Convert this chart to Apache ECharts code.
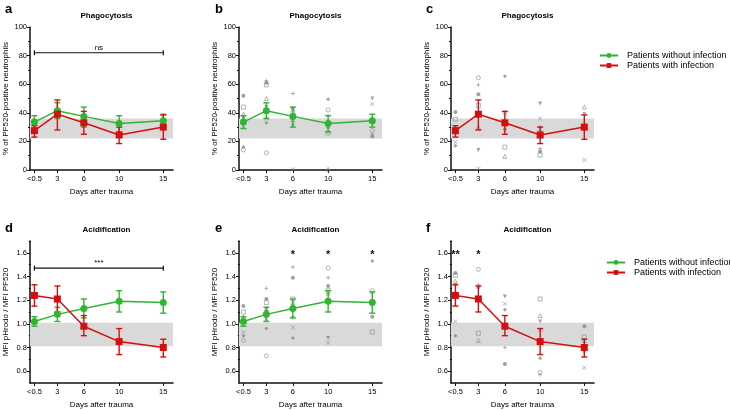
<!DOCTYPE html>
<html>
<head>
<meta charset="utf-8">
<script src="https://cdn.jsdelivr.net/npm/echarts@6/dist/echarts.min.js"></script>
<style>html,body{margin:0;padding:0;background:#fff}#c{width:730px;height:410px}</style>
</head>
<body>
<div id="c"></div>
<script>
// ---------------- data ----------------
const days = [0.4, 3, 6, 10, 15];
const dayLabels = ['<0.5', '3', '6', '10', '15'];
const nameNoInf = 'Patients without infection';
const nameInf = 'Patients with infection';

const phagoNoInf     = [33.5, 41.5, 37.5, 32.5, 34.5];
const phagoNoInfLow  = [29, 36, 30, 26.5, 30];
const phagoNoInfHigh = [38, 47, 44, 38, 39];
const phagoInf       = [27.5, 39, 33, 24.5, 30];
const phagoInfLow    = [23, 28, 25, 18.5, 21.5];
const phagoInfHigh   = [31, 49, 41, 30, 38.5];

const acidNoInf      = [1.02, 1.08, 1.13, 1.19, 1.18];
const acidNoInfLow   = [0.98, 1.02, 1.05, 1.10, 1.09];
const acidNoInfHigh  = [1.06, 1.14, 1.21, 1.28, 1.27];
const acidInf        = [1.24, 1.21, 0.98, 0.85, 0.80];
const acidInfLow     = [1.15, 1.10, 0.90, 0.74, 0.72];
const acidInfHigh    = [1.33, 1.32, 1.07, 0.96, 0.87];

const phagoRefBand = [22, 36];
const acidRefBand  = [0.81, 1.01];
const phagoTicks = [0, 20, 40, 60, 80, 100];
const acidTicks  = [0.6, 0.8, 1.0, 1.2, 1.4, 1.6];

// individual patients
const phagoNoInfDots = [
  [0.4,52],[0.4,44],[0.4,39],[0.4,36],[0.4,31],[0.4,16],[0.4,14],
  [3,62.5],[3,61],[3,59.5],[3,50],[3,44],[3,36],[3,33],[3,12],
  [6,53.5],[6,43],[6,40],[6,35],[6,31],[6,0.5],
  [10,49.5],[10,42],[10,38],[10,30],[10,26],[10,0.5],
  [15,50],[15,46],[15,34],[15,27.5],[15,25],[15,23.5]
];
const phagoInfDots = [
  [0.4,40.5],[0.4,35.5],[0.4,30],[0.4,25],[0.4,19.5],[0.4,17],
  [3,64.5],[3,59.5],[3,53],[3,45],[3,30],[3,14],[3,1],
  [6,65.5],[6,40],[6,33],[6,28.5],[6,16],[6,9.5],
  [10,46.5],[10,36],[10,30],[10,27],[10,15],[10,13],[10,10.5],
  [15,44],[15,39],[15,7]
];
const acidNoInfDots = [
  [0.4,1.15],[0.4,1.10],[0.4,1.06],[0.4,1.0],[0.4,0.93],[0.4,0.90],[0.4,0.86],
  [3,1.30],[3,1.21],[3,1.18],[3,1.13],[3,1.10],[3,1.04],[3,0.96],[3,0.73],
  [6,1.48],[6,1.39],[6,1.21],[6,1.18],[6,1.05],[6,0.97],[6,0.88],
  [10,1.47],[10,1.39],[10,1.32],[10,1.28],[10,1.26],[10,0.88],[10,0.84],
  [15,1.53],[15,1.28],[15,1.26],[15,1.06],[15,0.93]
];
const acidInfDots = [
  [0.4,1.43],[0.4,1.41],[0.4,1.36],[0.4,1.33],[0.4,1.02],[0.4,0.90],
  [3,1.46],[3,1.33],[3,1.31],[3,0.92],[3,0.86],
  [6,1.23],[6,1.17],[6,1.12],[6,0.99],[6,0.80],[6,0.66],
  [10,1.21],[10,1.07],[10,1.02],[10,0.95],[10,0.71],[10,0.59],[10,0.57],
  [15,0.98],[15,0.89],[15,0.86],[15,0.76],[15,0.63]
];

// significance
const phagoBracket = [0.4, 15, 82];   const phagoBracketText = 'ns';
const acidBracket  = [0.4, 15, 1.47]; const acidBracketText  = '***';
const acidNoInfStarDays = [6, 10, 15];   const acidNoInfStarText = ['*', '*', '*'];
const acidInfStarDays   = [0.4, 3];      const acidInfStarText   = ['**', '*'];

// ---------------- styling helpers ----------------
const GREEN = '#2fb52f', RED = '#d40f0f', GRAY = '#8a8a8a', BAND = '#d9d9d9';
const FONT = 'Liberation Sans';
const grids = [
  {left: 30,  top: 27,  width: 143, height: 143},
  {left: 239, top: 27,  width: 143, height: 143},
  {left: 451, top: 27,  width: 143, height: 143},
  {left: 30,  top: 241, width: 143, height: 143},
  {left: 239, top: 241, width: 143, height: 143},
  {left: 451, top: 241, width: 143, height: 143}
];
const zip = (xs, ys) => xs.map((x, i) => [x, ys[i]]);

const dotSymbols = [
  {symbol: 'circle', fill: true},
  {symbol: 'rect', fill: false},
  {symbol: 'triangle', fill: false},
  {symbol: 'path://M0,0L10,0L5,9Z', fill: true},
  {symbol: 'path://M0,0L10,10M10,0L0,10', fill: false},
  {symbol: 'diamond', fill: true},
  {symbol: 'circle', fill: false},
  {symbol: 'path://M5,0L5,10M0,5L10,5', fill: false}
];

const xAxes = [], yAxes = [];
grids.forEach((g, i) => {
  xAxes.push({
    gridIndex: i, type: 'value', min: -0.1, max: 16.1,
    name: 'Days after trauma', nameLocation: 'middle', nameGap: 18,
    nameTextStyle: {fontSize: 8, color: '#000', fontFamily: FONT},
    axisLine: {show: true, onZero: false, lineStyle: {color: '#111', width: 1.5}},
    axisTick: {show: true, length: 3, customValues: days, lineStyle: {color: '#111', width: 1}},
    axisLabel: {fontSize: 7.5, color: '#000', margin: 5, fontFamily: FONT, customValues: days,
      formatter: v => { const k = days.findIndex(d => Math.abs(d - v) < 1e-6); return k >= 0 ? dayLabels[k] : ''; }},
    splitLine: {show: false}
  });
  const top = i < 3;
  const common = {
    gridIndex: i, type: 'value',
    nameLocation: 'middle', nameGap: 20,
    nameTextStyle: {fontSize: 8, color: '#000', fontFamily: FONT},
    axisLine: {show: true, onZero: false, lineStyle: {color: '#111', width: 1.5}},
    splitLine: {show: false}
  };
  if (top) {
    yAxes.push(Object.assign({}, common, {
      min: phagoTicks[0], max: phagoTicks[phagoTicks.length - 1], interval: 20,
      name: '% of PF520-positive neutrophils',
      axisTick: {show: true, length: 3, lineStyle: {color: '#111', width: 1}},
      minorTick: {show: true, splitNumber: 2, length: 2, lineStyle: {color: '#111', width: 1}},
      minorSplitLine: {show: false},
      axisLabel: {fontSize: 7.5, color: '#000', margin: 3, fontFamily: FONT}
    }));
  } else {
    yAxes.push(Object.assign({}, common, {
      min: 0.5, max: 1.7,
      name: 'MFI pHrodo / MFI PF520',
      axisTick: {show: true, length: 3, customValues: acidTicks, lineStyle: {color: '#111', width: 1}},
      axisLabel: {fontSize: 7.5, color: '#000', margin: 3, fontFamily: FONT, customValues: acidTicks,
        formatter: v => v.toFixed(1)}
    }));
  }
});
// minor ticks for the lower row
const acidMinor = acidTicks.slice(0, -1).map(v => +(v + 0.1).toFixed(2)).concat([1.7]);
[3, 4, 5].forEach(i => {
  yAxes.push({
    gridIndex: i, type: 'value', min: 0.5, max: 1.7, position: 'left', offset: 0,
    axisLine: {show: false}, splitLine: {show: false},
    axisTick: {show: true, length: 2, customValues: acidMinor, lineStyle: {color: '#111', width: 1}},
    axisLabel: {show: false, customValues: acidMinor}
  });
});

function errRender(params, api) {
  const x = api.value(0);
  const pLo = api.coord([x, api.value(1)]);
  const pHi = api.coord([x, api.value(2)]);
  const w = 3;
  const style = {stroke: api.visual('color'), lineWidth: 1.4, fill: null};
  return {type: 'group', children: [
    {type: 'line', shape: {x1: pLo[0], y1: pLo[1], x2: pHi[0], y2: pHi[1]}, style},
    {type: 'line', shape: {x1: pLo[0] - w, y1: pLo[1], x2: pLo[0] + w, y2: pLo[1]}, style},
    {type: 'line', shape: {x1: pHi[0] - w, y1: pHi[1], x2: pHi[0] + w, y2: pHi[1]}, style}
  ]};
}

const series = [];
function addGroup(gi, name, color, symbol, vals, lo, hi, band) {
  series.push({
    type: 'line', name, xAxisIndex: gi, yAxisIndex: gi,
    data: zip(days, vals), symbol, symbolSize: 7, z: 5,
    itemStyle: {color}, lineStyle: {color, width: 1.5},
    markArea: band ? {silent: true, itemStyle: {color: BAND}, data: [[{yAxis: band[0]}, {yAxis: band[1]}]]} : undefined
  });
  series.push({
    type: 'custom', xAxisIndex: gi, yAxisIndex: gi, z: 4,
    itemStyle: {color}, renderItem: errRender,
    encode: {x: 0, y: [1, 2]},
    data: days.map((d, k) => [d, lo[k], hi[k]])
  });
}
function addDots(gi, dots) {
  series.push({
    type: 'scatter', xAxisIndex: gi, yAxisIndex: gi, z: 3, symbolSize: 4,
    data: dots.map((p, k) => {
      const s = dotSymbols[k % dotSymbols.length];
      return {value: p, symbol: s.symbol,
        itemStyle: {color: s.fill ? GRAY : 'rgba(255,255,255,0)', borderColor: GRAY, borderWidth: s.fill ? 0 : 0.8}};
    })
  });
}
function addBracket(gi, br, text) {
  series.push({
    type: 'custom', xAxisIndex: gi, yAxisIndex: gi, z: 6, silent: true,
    data: [br],
    renderItem: (params, api) => {
      const p1 = api.coord([api.value(0), api.value(2)]);
      const p2 = api.coord([api.value(1), api.value(2)]);
      const st = {stroke: '#111', lineWidth: 1.2};
      return {type: 'group', children: [
        {type: 'line', shape: {x1: p1[0], y1: p1[1], x2: p2[0], y2: p2[1]}, style: st},
        {type: 'line', shape: {x1: p1[0], y1: p1[1] - 2.5, x2: p1[0], y2: p1[1] + 2.5}, style: st},
        {type: 'line', shape: {x1: p2[0], y1: p2[1] - 2.5, x2: p2[0], y2: p2[1] + 2.5}, style: st},
        {type: 'text', style: {text, x: (p1[0] + p2[0]) / 2, y: p1[1] - 1, align: 'center', verticalAlign: 'bottom',
          fontSize: 8, fontFamily: FONT, fill: '#000'}}
      ]};
    }
  });
}
function addStars(gi, xs, texts, level) {
  series.push({
    type: 'custom', xAxisIndex: gi, yAxisIndex: gi, z: 6, silent: true,
    data: xs.map(x => [x, level]),
    renderItem: (params, api) => {
      const p = api.coord([api.value(0), api.value(1)]);
      return {type: 'text', style: {text: texts[params.dataIndex], x: p[0], y: p[1] + 2, align: 'center', verticalAlign: 'middle',
        fontSize: 11, fontWeight: 'bold', fontFamily: FONT, fill: '#111'}};
    }
  });
}

// a
addGroup(0, nameNoInf, GREEN, 'circle', phagoNoInf, phagoNoInfLow, phagoNoInfHigh, phagoRefBand);
addGroup(0, nameInf, RED, 'rect', phagoInf, phagoInfLow, phagoInfHigh, null);
addBracket(0, phagoBracket, phagoBracketText);
// b
addDots(1, phagoNoInfDots);
addGroup(1, nameNoInf, GREEN, 'circle', phagoNoInf, phagoNoInfLow, phagoNoInfHigh, phagoRefBand);
// c
addDots(2, phagoInfDots);
addGroup(2, nameInf, RED, 'rect', phagoInf, phagoInfLow, phagoInfHigh, phagoRefBand);
// d
addGroup(3, nameNoInf, GREEN, 'circle', acidNoInf, acidNoInfLow, acidNoInfHigh, acidRefBand);
addGroup(3, nameInf, RED, 'rect', acidInf, acidInfLow, acidInfHigh, null);
addBracket(3, acidBracket, acidBracketText);
// e
addDots(4, acidNoInfDots);
addGroup(4, nameNoInf, GREEN, 'circle', acidNoInf, acidNoInfLow, acidNoInfHigh, acidRefBand);
addStars(4, acidNoInfStarDays, acidNoInfStarText, 1.6);
// f
addDots(5, acidInfDots);
addGroup(5, nameInf, RED, 'rect', acidInf, acidInfLow, acidInfHigh, acidRefBand);
addStars(5, acidInfStarDays, acidInfStarText, 1.6);

const letterStyle = {fontSize: 13, fontWeight: 'bold', color: '#000', fontFamily: FONT};
const headStyle = {fontSize: 8, fontWeight: 'bold', color: '#000', fontFamily: FONT};
const titles = [
  {text: 'a', left: 0, top: -2, textStyle: letterStyle},
  {text: 'b', left: 210, top: -2, textStyle: letterStyle},
  {text: 'c', left: 421, top: -2, textStyle: letterStyle},
  {text: 'd', left: 0, top: 217, textStyle: letterStyle},
  {text: 'e', left: 210, top: 217, textStyle: letterStyle},
  {text: 'f', left: 421, top: 217, textStyle: letterStyle}
];
['Phagocytosis', 'Phagocytosis', 'Phagocytosis', 'Acidification', 'Acidification', 'Acidification'].forEach((t, i) => {
  titles.push({text: t, left: grids[i].left + grids[i].width / 2, top: i < 3 ? 7 : 221, textAlign: 'center',
    padding: 5, textStyle: headStyle});
});

const legendCommon = {
  orient: 'vertical', itemWidth: 18, itemHeight: 6, itemGap: 1,
  textStyle: {fontSize: 9, color: '#000', fontFamily: FONT, padding: [0, 0, 0, 4]},
  data: [nameNoInf, nameInf], selectedMode: false
};

const chart = echarts.init(document.getElementById('c'), null, {renderer: 'canvas'});
chart.setOption({
  animation: false,
  textStyle: {fontFamily: FONT},
  title: titles,
  legend: [
    Object.assign({left: 594, top: 46}, legendCommon),
    Object.assign({left: 601, top: 253}, legendCommon)
  ],
  grid: grids,
  xAxis: xAxes,
  yAxis: yAxes,
  series
});
</script>
</body>
</html>
